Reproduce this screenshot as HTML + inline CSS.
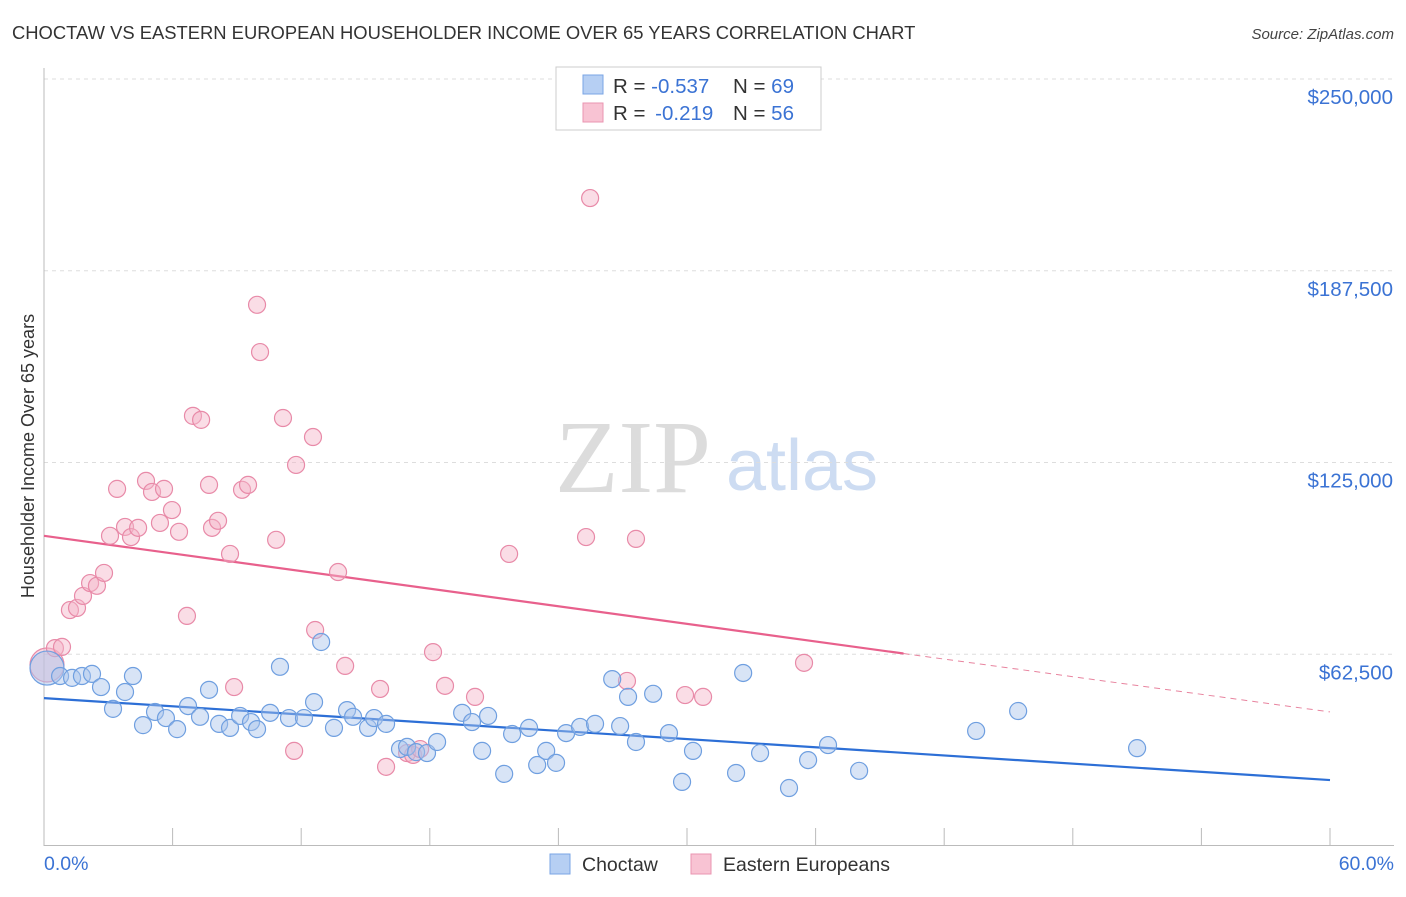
<!DOCTYPE html>
<html><head><meta charset="utf-8"><style>
body{margin:0;background:#fff;font-family:"Liberation Sans",sans-serif;}
</style></head><body>
<svg id="chart" width="1406" height="892" xmlns="http://www.w3.org/2000/svg" font-family="Liberation Sans, sans-serif">
<text x="12" y="39" font-size="18.4" fill="#333">CHOCTAW VS EASTERN EUROPEAN HOUSEHOLDER INCOME OVER 65 YEARS CORRELATION CHART</text>
<text x="1394" y="39" font-size="15" fill="#444" text-anchor="end" font-style="italic">Source: ZipAtlas.com</text>
<g>
<text x="633" y="492" font-size="104" fill="#dcdcdc" text-anchor="middle" font-family="Liberation Serif, serif">ZIP</text>
<text x="802" y="490" font-size="72" fill="#cddcf2" text-anchor="middle">atlas</text>
</g>
<g id="grid"></g>
<g id="axes"></g>
<g id="lines"></g>
<g id="points"></g>
<text transform="translate(34,456) rotate(-90)" font-size="18" fill="#333" text-anchor="middle">Householder Income Over 65 years</text>
<text x="44" y="870" font-size="19.5" fill="#3b73d4">0.0%</text>
<text x="1394" y="870" font-size="19.5" fill="#3b73d4" text-anchor="end">60.0%</text>
<g>
<rect x="556" y="67" width="265" height="63" fill="#fff" stroke="#ccc"/>
<rect x="583" y="75" width="20" height="19" fill="#b6cff3" stroke="#7aa4e4"/>
<rect x="583" y="103" width="20" height="19" fill="#f8c3d3" stroke="#ea95b0"/>
<text x="613" y="93" font-size="20.5" fill="#333">R = <tspan fill="#3b73d4">-0.537</tspan><tspan x="733">N = </tspan><tspan fill="#3b73d4">69</tspan></text>
<text x="613" y="120" font-size="20.5" fill="#333">R = <tspan fill="#3b73d4" dx="4">-0.219</tspan><tspan x="733">N = </tspan><tspan fill="#3b73d4">56</tspan></text>
</g>
<g>
<rect x="550" y="854" width="20" height="20" fill="#b6cff3" stroke="#7aa4e4"/>
<text x="582" y="871" font-size="19.5" fill="#333">Choctaw</text>
<rect x="691" y="854" width="20" height="20" fill="#f8c3d3" stroke="#ea95b0"/>
<text x="723" y="871" font-size="19.5" fill="#333">Eastern Europeans</text>
</g>
</svg>
<script>
const yTicks=[62500,125000,187500,250000];
const yTickLabels=["$62,500","$125,000","$187,500","$250,000"];
const xTicks=[0,6,12,18,24,30,36,42,48,54,60];
const blueX=[0.14,0.75,1.31,1.77,2.24,2.66,3.22,3.78,4.15,4.62,5.18,5.69,6.21,6.72,7.28,7.70,8.17,8.68,9.15,9.66,9.94,10.55,11.01,11.43,12.13,12.60,12.93,13.53,14.14,14.42,15.12,15.40,15.96,16.61,16.94,17.36,17.87,18.34,19.51,19.97,20.44,20.72,21.47,21.84,22.63,23.01,23.43,23.89,24.36,25.01,25.71,26.51,26.88,27.25,27.62,28.42,29.16,29.77,30.28,32.29,32.62,33.41,34.76,35.65,36.58,38.03,43.49,45.45,51.0];
const blueY=[58.0,55.4,54.8,55.4,56.1,51.8,44.7,50.2,55.4,39.4,43.7,41.7,38.1,45.6,42.1,50.9,39.8,38.5,42.4,40.4,38.1,43.4,58.4,41.7,41.7,46.9,66.5,38.5,44.3,42.1,38.5,41.7,39.8,31.6,32.3,30.6,30.3,33.9,43.4,40.4,31.0,42.4,23.5,36.5,38.5,26.4,31.0,27.1,36.8,38.8,39.8,54.4,39.1,48.6,33.9,49.6,36.8,20.9,31.0,23.8,56.4,30.3,18.9,28.0,32.9,24.5,37.5,44.0,31.9];
const pinkX=[0.14,0.51,0.84,1.21,1.54,1.82,2.15,2.47,2.80,3.08,3.41,3.78,4.06,4.39,4.76,5.04,5.41,5.60,5.97,6.30,6.67,6.95,7.33,7.70,7.84,8.12,8.68,8.87,9.24,9.52,9.94,10.08,10.83,11.15,11.67,11.76,12.55,12.65,13.72,14.05,15.68,15.96,16.94,17.22,17.55,18.15,18.71,20.11,21.70,25.29,25.48,27.20,27.62,29.91,30.75,35.46];
const pinkY=[59.0,64.5,64.9,76.9,77.6,81.5,85.7,84.8,89.0,101.1,116.4,104.0,100.7,103.7,119.0,115.4,105.3,116.4,109.5,102.4,75.0,140.2,138.9,117.7,103.7,106.0,95.2,51.8,116.1,117.7,176.4,161.0,99.8,139.5,31.0,124.2,133.3,70.4,89.3,58.7,51.2,25.8,30.3,29.7,31.6,63.2,52.2,48.6,95.2,100.7,211.2,53.8,100.1,49.2,48.6,59.7];
const blueTrend=[48.2,21.5];
const pinkTrend=[101.1,43.7];
const pinkSolidEnd=40.1;

const NS="http://www.w3.org/2000/svg";
const X0=44,X1=1330,Y0=846,YTOP=79;
function sx(p){return X0+(X1-X0)*p/60;}
function sy(k){return Y0-(Y0-YTOP)*(k*1000)/250000;}
function mk(tag,attrs,parent){const e=document.createElementNS(NS,tag);for(const k in attrs)e.setAttribute(k,attrs[k]);parent.appendChild(e);return e;}
const grid=document.getElementById('grid'),axes=document.getElementById('axes'),lines=document.getElementById('lines'),pts=document.getElementById('points');
yTicks.forEach((v,i)=>{
  const y=sy(v/1000);
  const l=mk('line',{x1:44,x2:1394,y1:y,y2:y,stroke:'#ddd','stroke-dasharray':'4,4'},grid);
  
  
  const t=mk('text',{x:1393,y:y+25,'font-size':20.5,fill:'#3b73d4','text-anchor':'end'},grid);
  t.textContent=yTickLabels[i];
  
  
});
const ya=mk('line',{x1:44,x2:44,y1:68,y2:846,stroke:'#bbb'},axes);


const xa=mk('line',{x1:44,x2:1394,y1:845.5,y2:845.5,stroke:'#bbb'},axes);


xTicks.forEach(p=>{
  const t=mk('line',{x1:sx(p),x2:sx(p),y1:828,y2:846,stroke:'#bbb'},axes);
  
  
});
function trend(v,end0,end1,color,dash,name){
  const a=v[0],b=v[1];const f=p=>a+(b-a)*p/60;
  const l=mk('line',{x1:sx(end0),y1:sy(f(end0)),x2:sx(end1),y2:sy(f(end1)),stroke:color,'stroke-width':dash?1:2.2},lines);
  if(dash)l.setAttribute('stroke-dasharray','6,5');
  
  
}
trend(blueTrend,0,60,'#2d6fd6',false,'choctaw-trendline');
trend(pinkTrend,0,pinkSolidEnd,'#e8608c',false,'eastern-trendline');
trend(pinkTrend,pinkSolidEnd,60,'#e8849f',true,'eastern-trendline-extension');
function dots(xs,ys,fill,stroke,name){
  xs.forEach((x,i)=>{
    const big=i===0;
    const c=mk('circle',{cx:sx(x),cy:sy(ys[i]),r:big?17:8.5,fill:fill,'fill-opacity':big?0.5:0.45,stroke:stroke,'stroke-width':1.2},pts);
    
    
  });
}
dots(pinkX,pinkY,'#f5b3c8','#e88aa8','eastern-point');
dots(blueX,blueY,'#a8c4ec','#6f9fe0','choctaw-point');
</script>
</body></html>
